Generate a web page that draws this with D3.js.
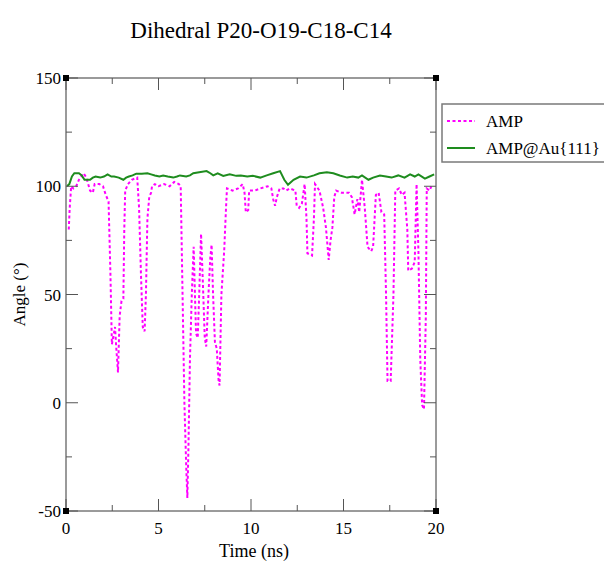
<!DOCTYPE html>
<html>
<head>
<meta charset="utf-8">
<script src="https://cdn.jsdelivr.net/npm/d3@7"></script>
<style>
  body { margin: 0; background: #fff; }
  svg { display: block; font-family: "Liberation Serif", "DejaVu Serif", serif; }
</style>
</head>
<body>
<svg id="chart" width="604" height="561"></svg>
<script>
const title = 'Dihedral P20-O19-C18-C14';
const xLabel = 'Time (ns)';
const yLabel = 'Angle (°)';
const seriesNames = ['AMP', 'AMP@Au{111}'];
const xTicks = [0, 5, 10, 15, 20];
const yTicks = [-50, 0, 50, 100, 150];

// AMP (free) dihedral, time in ns
const ampTime = [0.15, 0.2, 0.28, 0.4, 0.55, 0.7, 0.95, 1.1, 1.3, 1.45, 1.55, 1.8, 2.0, 2.15, 2.3, 2.4, 2.48, 2.55, 2.65, 2.72, 2.81, 2.9, 3.0, 3.1, 3.15, 3.2, 3.35, 3.55, 3.85, 3.95, 4.05, 4.15, 4.25, 4.32, 4.4, 4.5, 4.6, 4.65, 4.8, 5.0, 5.3, 5.6, 5.85, 6.1, 6.2, 6.3, 6.4, 6.5, 6.56, 6.62, 6.7, 6.8, 6.9, 6.97, 7.03, 7.12, 7.2, 7.3, 7.4, 7.5, 7.58, 7.7, 7.8, 7.87, 7.95, 8.05, 8.15, 8.25, 8.3, 8.4, 8.55, 8.65, 8.7, 9.0, 9.3, 9.55, 9.65, 9.72, 9.85, 9.9, 10.2, 10.5, 10.9, 11.1, 11.2, 11.3, 11.4, 11.55, 11.75, 11.9, 12.1, 12.4, 12.47, 12.6, 12.75, 12.9, 13.0, 13.05, 13.3, 13.4, 13.46, 13.7, 13.9, 14.05, 14.2, 14.3, 14.4, 14.5, 14.6, 14.9, 15.3, 15.45, 15.6, 15.75, 15.85, 16.0, 16.15, 16.3, 16.5, 16.6, 16.75, 16.9, 17.05, 17.2, 17.3, 17.38, 17.55, 17.7, 17.8, 18.0, 18.15, 18.3, 18.45, 18.5, 18.7, 18.85, 18.95, 19.05, 19.15, 19.25, 19.35, 19.45, 19.5, 19.65, 19.75];
const ampAngle = [80, 90, 100, 99, 100, 103, 106, 104, 98, 97, 101, 101, 100, 96, 93, 60, 27, 30, 35, 25, 14, 40, 47, 48, 80, 98, 101, 103, 104, 90, 60, 35, 33, 50, 85, 95, 97, 100, 101, 100, 101, 100, 102, 101, 100, 50, 0, -30, -44, -20, 20, 50, 72, 50, 32, 30, 50, 78, 55, 30, 26, 50, 67, 73, 50, 28, 25, 10, 8, 50, 70, 90, 99, 98, 99, 101, 97, 88, 89, 98, 98, 99, 100, 99, 94, 91, 95, 99, 99, 98, 99, 98, 91, 90, 92, 101, 85, 69, 68, 85, 101, 98, 90, 81, 66, 75, 81, 95, 98, 97, 97, 95, 87, 94, 88, 103, 90, 72, 70, 72, 96, 97, 88, 87, 50, 10, 10, 50, 98, 99, 96, 97, 80, 61, 62, 65, 101, 70, 20, -1, -3, 40, 99, 98, 100];

// AMP adsorbed on Au{111}
const auTime = [0.05, 0.18, 0.32, 0.45, 0.7, 0.85, 1.0, 1.1, 1.3, 1.45, 1.6, 1.85, 2.05, 2.25, 2.45, 2.6, 2.85, 3.1, 3.25, 3.4, 3.6, 3.8, 4.1, 4.4, 4.6, 4.8, 5.05, 5.25, 5.5, 5.8, 6.0, 6.16, 6.5, 6.7, 6.88, 7.2, 7.6, 7.8, 7.96, 8.2, 8.5, 8.85, 9.2, 9.45, 9.8, 10.1, 10.5, 10.85, 11.2, 11.57, 11.8, 12.0, 12.3, 12.65, 13.0, 13.4, 13.7, 14.1, 14.45, 14.8, 15.2, 15.5, 15.8, 16.0, 16.35, 16.6, 16.97, 17.3, 17.6, 17.96, 18.3, 18.6, 18.85, 19.05, 19.4, 19.65, 19.9];
const auAngle = [100, 101, 104.5, 106, 106, 105, 103, 103, 103, 104, 104.5, 104, 104.5, 105.5, 104.5, 104.5, 104, 103, 104, 104.5, 105, 105.8, 105.8, 106, 105.5, 105, 104.5, 105, 104.5, 104, 104.5, 105, 104.5, 105, 106, 106.5, 107, 106, 105, 106, 104.8, 105.5, 104.8, 105, 104.5, 104.8, 104, 105, 106, 107, 103, 100.7, 103, 104.5, 104, 105, 106, 106.5, 106, 105, 104, 104.5, 104, 105, 103, 104, 105, 104.5, 104, 105, 104, 105.5, 104.5, 105.5, 103.5, 104.5, 105.5];

const svg = d3.select('#chart');
const margin = { left: 66, right: 168, top: 78, bottom: 50 };
const W = 604, H = 561;

const x = d3.scaleLinear().domain([0, 20]).range([margin.left, W - margin.right]);
const y = d3.scaleLinear().domain([-50, 150]).range([H - margin.bottom, margin.top]);

const frameColor = '#7a7a7a';
const tickColor = '#555';

// title
svg.append('text')
    .attr('x', 261).attr('y', 38)
    .attr('text-anchor', 'middle')
    .attr('font-size', 23)
    .text(title);

const plot = svg.append('g');

// data lines
const line = d3.line().x(d => x(d[0])).y(d => y(d[1]));
const ampData = ampTime.map((t, i) => [t, ampAngle[i]]);
const auData = auTime.map((t, i) => [t, auAngle[i]]);

plot.append('path')
    .datum(ampData)
    .attr('fill', 'none')
    .attr('stroke', '#ff00ff')
    .attr('stroke-width', 2)
    .attr('stroke-dasharray', '3,2.5')
    .attr('d', line);

plot.append('path')
    .datum(auData)
    .attr('fill', 'none')
    .attr('stroke', '#1e8c1e')
    .attr('stroke-width', 2)
    .attr('d', line);

// frame
const x0 = x(0), x1 = x(20), y0 = y(-50), y1 = y(150);
plot.append('rect')
    .attr('x', x0).attr('y', y1)
    .attr('width', x1 - x0).attr('height', y0 - y1)
    .attr('fill', 'none')
    .attr('stroke', frameColor)
    .attr('stroke-width', 1.5);

// ticks, pointing inward on all four sides
const xMinor = d3.range(0, 20.01, 2.5);
const yMinor = d3.range(-50, 150.01, 25);
const tickG = plot.append('g').attr('stroke', tickColor).attr('stroke-width', 1);
xMinor.forEach(v => {
    const len = xTicks.includes(v) ? 12 : 6;
    tickG.append('line').attr('x1', x(v)).attr('x2', x(v)).attr('y1', y0).attr('y2', y0 - len);
    tickG.append('line').attr('x1', x(v)).attr('x2', x(v)).attr('y1', y1).attr('y2', y1 + len);
});
yMinor.forEach(v => {
    const len = yTicks.includes(v) ? 12 : 6;
    tickG.append('line').attr('x1', x0).attr('x2', x0 + len).attr('y1', y(v)).attr('y2', y(v));
    tickG.append('line').attr('x1', x1).attr('x2', x1 - len).attr('y1', y(v)).attr('y2', y(v));
});

// corner markers
[[x0, y1], [x1, y1], [x0, y0], [x1, y0]].forEach(([cx, cy]) => {
    plot.append('rect')
        .attr('x', cx - 3).attr('y', cy - 3)
        .attr('width', 6).attr('height', 6)
        .attr('fill', '#000');
});

// tick labels
svg.append('g').selectAll('text')
    .data(xTicks)
    .join('text')
    .attr('x', d => x(d))
    .attr('y', y0 + 23)
    .attr('text-anchor', 'middle')
    .attr('font-size', 17)
    .text(d => d);

svg.append('g').selectAll('text')
    .data(yTicks)
    .join('text')
    .attr('x', x0 - 5)
    .attr('y', d => y(d) + 6)
    .attr('text-anchor', 'end')
    .attr('font-size', 17)
    .text(d => d);

// axis titles
svg.append('text')
    .attr('x', 254).attr('y', 557)
    .attr('text-anchor', 'middle')
    .attr('font-size', 18)
    .text(xLabel);

svg.append('text')
    .attr('transform', `translate(25,${(y0 + y1) / 2}) rotate(-90)`)
    .attr('text-anchor', 'middle')
    .attr('font-size', 17)
    .text(yLabel);

// legend
const legend = svg.append('g');
legend.append('rect')
    .attr('x', 442).attr('y', 104)
    .attr('width', 170).attr('height', 58)
    .attr('fill', '#fff')
    .attr('stroke', frameColor)
    .attr('stroke-width', 1.5);

const legendStyles = [
    { color: '#ff00ff', dash: '3,2.5', width: 2 },
    { color: '#1e8c1e', dash: null, width: 2 }
];
seriesNames.forEach((name, i) => {
    const ly = 121 + i * 27;
    legend.append('line')
        .attr('x1', 447).attr('x2', 475)
        .attr('y1', ly).attr('y2', ly)
        .attr('stroke', legendStyles[i].color)
        .attr('stroke-width', legendStyles[i].width)
        .attr('stroke-dasharray', legendStyles[i].dash);
    legend.append('text')
        .attr('x', 486).attr('y', ly + 6)
        .attr('font-size', 17)
        .text(name);
});
</script>
</body>
</html>
